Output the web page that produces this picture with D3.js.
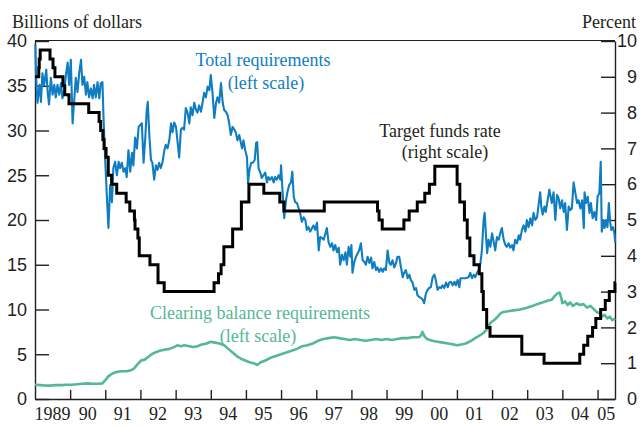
<!DOCTYPE html>
<html>
<head>
<meta charset="utf-8">
<script src="https://cdn.jsdelivr.net/npm/d3@7"></script>
<style>
  body { margin: 0; background: #fff; }
  svg { display: block; font-family: "Liberation Serif", "DejaVu Serif", serif; }
</style>
</head>
<body>
<script>
// target funds rate (percent), change dates
var rateDates = ["1989-01-01","1989-02-09","1989-02-14","1989-02-24","1989-06-06","1989-07-07","1989-07-27","1989-10-18","1989-11-06","1989-12-20",
  "1990-07-13","1990-10-29","1990-11-14","1990-12-07","1990-12-19","1991-01-09","1991-02-01","1991-03-08","1991-04-30","1991-08-06",
  "1991-09-13","1991-10-31","1991-11-06","1991-12-06","1991-12-20","1992-04-09","1992-07-02","1992-09-04","1994-02-04","1994-03-22",
  "1994-04-18","1994-05-17","1994-08-16","1994-11-15","1995-02-01","1995-07-06","1995-12-19","1996-01-31","1997-03-25","1998-09-29",
  "1998-10-15","1998-11-17","1999-06-30","1999-08-24","1999-11-16","2000-02-02","2000-03-21","2000-05-16","2001-01-03","2001-01-31",
  "2001-03-20","2001-04-18","2001-05-15","2001-06-27","2001-08-21","2001-09-17","2001-10-02","2001-11-06","2001-12-11","2002-11-06",
  "2003-06-25","2004-06-30","2004-08-10","2004-09-21","2004-11-10","2004-12-14","2005-02-02","2005-03-22","2005-05-03","2005-06-30","2005-07-01"];
var rateValues = [9.0,9.25,9.5,9.75,9.5,9.25,9.0,8.75,8.5,8.25,
  8.0,7.75,7.5,7.25,7.0,6.75,6.25,6.0,5.75,5.5,
  5.25,5.0,4.75,4.5,4.0,3.75,3.25,3.0,3.25,3.5,
  3.75,4.25,4.75,5.5,6.0,5.75,5.5,5.25,5.5,5.25,
  5.0,4.75,5.0,5.25,5.5,5.75,6.0,6.5,6.0,5.5,
  5.0,4.5,4.0,3.75,3.5,3.0,2.5,2.0,1.75,1.25,
  1.0,1.25,1.5,1.75,2.0,2.25,2.5,2.75,3.0,3.25,3.25];

// total requirements (billions of dollars)
var totalYears = [1989.01,1989.03,1989.07,1989.13,1989.17,1989.21,1989.26,1989.32,1989.36,1989.40,1989.45,1989.50,1989.55,1989.59,1989.64,1989.69,1989.74,1989.78,1989.83,1989.88,1989.93,1989.97,
  1990.02,1990.07,1990.12,1990.16,1990.21,1990.26,1990.31,1990.35,1990.40,1990.45,1990.49,1990.54,1990.59,1990.64,1990.68,1990.73,1990.78,1990.83,1990.87,1990.92,1990.95,
  1991.00,1991.04,1991.09,1991.14,1991.19,1991.23,1991.28,1991.33,1991.38,1991.42,1991.47,1991.52,1991.57,1991.61,1991.66,1991.71,1991.76,1991.80,1991.85,1991.90,1991.95,1991.99,
  1992.04,1992.09,1992.14,1992.18,1992.21,1992.25,1992.30,1992.34,1992.39,1992.44,1992.49,1992.53,1992.58,1992.63,1992.68,1992.72,1992.77,1992.82,1992.87,1992.91,1992.96,
  1993.01,1993.05,1993.10,1993.15,1993.20,1993.24,1993.29,1993.34,1993.39,1993.43,1993.48,1993.53,1993.58,1993.62,1993.67,1993.72,1993.77,1993.81,1993.86,1993.91,1993.96,
  1994.00,1994.05,1994.10,1994.15,1994.19,1994.24,1994.29,1994.34,1994.38,1994.43,1994.48,1994.52,1994.57,1994.62,1994.67,1994.71,1994.76,1994.81,1994.89,1994.93,1994.98,
  1995.03,1995.06,1995.10,1995.15,1995.20,1995.25,1995.29,1995.32,1995.36,1995.41,1995.45,1995.50,1995.55,1995.60,1995.64,1995.69,1995.74,1995.79,1995.83,1995.88,1995.93,1995.98,
  1996.00,1996.04,1996.09,1996.14,1996.18,1996.23,1996.28,1996.32,1996.36,1996.40,1996.45,1996.50,1996.54,1996.59,1996.64,1996.69,1996.73,1996.78,1996.83,1996.88,1996.92,1996.97,
  1997.02,1997.07,1997.11,1997.16,1997.21,1997.26,1997.30,1997.35,1997.40,1997.45,1997.49,1997.54,1997.59,1997.64,1997.68,1997.73,1997.78,1997.83,1997.87,1997.92,1997.97,
  1998.00,1998.03,1998.08,1998.13,1998.18,1998.22,1998.27,1998.32,1998.37,1998.41,1998.46,1998.51,1998.56,1998.60,1998.65,1998.70,1998.74,1998.79,1998.84,1998.89,1998.93,1998.98,
  1999.03,1999.08,1999.12,1999.17,1999.22,1999.27,1999.31,1999.36,1999.41,1999.46,1999.50,1999.55,1999.60,1999.65,1999.69,1999.74,1999.79,1999.84,1999.88,1999.93,1999.98,
  2000.03,2000.07,2000.12,2000.17,2000.21,2000.26,2000.31,2000.36,2000.40,2000.45,2000.50,2000.55,2000.59,2000.64,2000.69,2000.74,2000.78,2000.83,2000.88,2000.93,2000.97,
  2001.02,2001.07,2001.10,2001.24,2001.33,2001.38,2001.43,2001.48,2001.52,2001.57,2001.62,2001.67,2001.71,2001.76,2001.79,2001.83,2001.86,2001.90,2001.95,
  2002.00,2002.05,2002.09,2002.14,2002.19,2002.23,2002.28,2002.33,2002.38,2002.42,2002.47,2002.52,2002.57,2002.61,2002.66,2002.71,2002.76,2002.80,2002.85,2002.90,2002.95,2002.99,
  2003.04,2003.09,2003.14,2003.18,2003.23,2003.28,2003.33,2003.37,2003.40,2003.44,2003.49,2003.53,2003.58,2003.63,2003.70,2003.75,2003.80,2003.85,2003.89,2003.94,2003.99,
  2004.04,2004.08,2004.13,2004.18,2004.23,2004.27,2004.32,2004.37,2004.42,2004.46,2004.51,2004.56,2004.61,2004.63,2004.67,2004.72,2004.77,2004.81,2004.86,2004.91,2004.96,
  2005.00,2005.05,2005.09,2005.12,2005.16,2005.20,2005.24,2005.28,2005.32,2005.36,2005.39,2005.44,2005.48,2005.50];
var totalValues = [39.6,36.2,33.1,35.1,33.2,36.4,35.1,36.8,34.3,32.9,35.9,34.0,35.1,33.7,35.1,34.0,35.3,33.6,34.3,36.2,37.6,35.1,
  37.9,30.8,33.6,35.9,34.3,36.5,37.9,35.1,36.0,34.0,35.4,33.7,34.7,33.6,35.1,33.7,35.4,33.6,35.3,35.4,31.4,
  26.5,23.1,19.1,23.9,22.0,25.8,26.5,25.0,26.5,25.8,26.4,25.4,25.8,24.8,27.8,25.4,27.5,26.1,29.2,28.0,30.4,30.6,
  30.8,26.4,29.3,32.3,33.2,29.7,26.7,26.4,24.5,26.1,25.6,26.4,25.8,26.5,27.8,28.4,28.0,28.9,30.8,29.8,30.9,
  30.4,28.9,27.0,30.1,30.3,30.1,32.5,32.0,30.8,32.6,31.7,33.1,32.3,32.0,32.8,32.1,33.2,34.2,33.7,34.9,34.5,
  36.2,34.2,31.4,33.1,33.7,33.1,35.3,33.1,32.3,32.1,31.7,30.9,29.5,30.4,30.1,29.8,28.9,29.5,28.0,28.9,27.8,
  27.0,24.1,25.6,26.4,26.4,26.7,28.6,28.7,25.8,25.3,24.7,25.0,25.3,24.2,24.8,24.5,24.8,24.2,24.8,24.5,25.0,24.5,
  26.1,23.4,20.2,22.2,23.1,23.9,24.2,25.4,22.6,22.0,21.9,21.3,20.8,19.8,20.3,20.0,18.9,19.2,18.7,19.1,19.4,18.9,
  19.7,16.6,18.1,18.0,17.8,18.5,19.1,17.5,17.0,17.4,16.6,17.2,16.4,16.9,15.0,16.1,15.5,16.4,15.0,17.0,15.9,
  17.2,14.1,15.3,15.9,16.3,16.6,17.4,15.5,15.3,15.0,15.9,15.2,15.8,14.6,15.3,14.4,14.7,14.2,14.6,14.2,14.6,14.4,
  16.6,15.2,15.0,15.5,14.7,15.2,15.9,15.9,14.7,13.6,14.1,14.4,13.5,13.9,13.3,13.0,12.2,12.4,11.6,11.4,11.3,
  11.1,10.7,11.8,12.2,12.4,12.5,13.6,13.9,13.3,12.2,12.5,12.4,12.7,12.4,13.0,12.5,13.0,13.1,12.7,13.1,12.7,
  13.3,12.5,13.5,13.5,13.6,14.1,13.5,13.9,13.6,14.1,14.4,15.2,16.6,20.0,20.8,18.1,16.3,17.8,17.0,
  18.5,17.5,16.6,18.1,17.8,18.5,19.1,17.8,17.2,17.0,17.4,16.9,17.2,16.6,17.8,17.4,18.3,17.8,18.9,19.4,18.7,20.0,
  19.2,20.2,19.4,20.8,20.0,20.3,21.9,23.1,21.5,20.6,21.5,20.9,22.2,23.4,21.9,23.1,20.0,22.8,22.5,21.3,22.2,
  20.9,21.9,18.9,21.5,21.1,21.3,24.2,23.0,21.9,22.2,21.3,22.2,19.1,23.1,21.9,22.6,20.8,21.9,20.2,20.9,20.0,
  22.6,23.0,26.5,18.7,20.0,19.1,20.0,19.2,21.9,19.7,18.9,19.2,18.5,17.5];

// clearing balance requirements (billions of dollars)
var clearYears = [1989.00,1989.15,1989.30,1989.45,1989.60,1989.75,1989.90,1990.05,1990.20,1990.35,1990.50,1990.65,1990.80,1990.92,
  1991.00,1991.08,1991.18,1991.30,1991.45,1991.60,1991.72,1991.82,1991.92,1992.02,1992.12,1992.22,1992.32,1992.42,1992.55,1992.68,1992.82,1992.95,
  1993.05,1993.15,1993.25,1993.38,1993.50,1993.62,1993.75,1993.88,1994.00,1994.12,1994.25,1994.38,1994.50,1994.62,1994.74,1994.86,1994.98,
  1995.10,1995.22,1995.32,1995.42,1995.55,1995.70,1995.85,1996.00,1996.15,1996.30,1996.45,1996.60,1996.75,1996.90,
  1997.05,1997.20,1997.35,1997.50,1997.65,1997.80,1997.95,1998.10,1998.25,1998.40,1998.55,1998.70,1998.85,
  1999.00,1999.15,1999.30,1999.45,1999.60,1999.75,1999.92,1999.98,2000.02,2000.08,2000.15,2000.30,2000.45,2000.60,2000.75,2000.90,
  2001.00,2001.12,2001.25,2001.40,2001.52,2001.65,2001.76,2001.86,2001.95,2002.05,2002.14,2002.22,2002.30,2002.45,2002.61,2002.80,2002.99,
  2003.15,2003.28,2003.45,2003.60,2003.70,2003.78,2003.86,2003.92,2003.97,2004.00,2004.08,2004.15,2004.22,2004.30,2004.40,2004.50,2004.60,
  2004.70,2004.80,2004.88,2004.98,2005.06,2005.12,2005.20,2005.28,2005.35,2005.42,2005.50];
var clearValues = [1.6,1.55,1.5,1.5,1.55,1.55,1.6,1.6,1.65,1.7,1.75,1.7,1.7,1.75,
  2.1,2.5,2.8,3.0,3.1,3.1,3.2,3.4,3.9,4.3,4.4,4.7,5.0,5.2,5.4,5.5,5.6,5.8,
  6.0,5.9,6.0,5.9,5.8,5.9,6.1,6.2,6.4,6.3,6.2,6.0,5.6,5.2,4.8,4.5,4.3,
  4.1,4.0,3.8,4.1,4.3,4.6,4.8,5.0,5.2,5.4,5.6,5.9,6.0,6.2,
  6.5,6.7,6.8,6.9,6.8,6.7,6.6,6.7,6.6,6.5,6.6,6.7,6.6,
  6.7,6.6,6.7,6.8,6.8,6.9,6.9,7.1,7.5,7.0,6.7,6.5,6.4,6.3,6.2,6.1,
  6.0,6.1,6.2,6.5,6.8,7.1,7.4,7.8,8.5,8.8,9.1,9.5,9.7,9.8,9.9,10.0,10.2,
  10.4,10.6,10.8,11.0,11.1,11.5,11.8,11.9,11.3,10.7,10.9,10.5,10.8,10.4,10.7,10.5,10.6,
  10.2,10.4,10.1,9.7,9.6,9.2,9.4,9.0,9.2,8.8,9.0];

// tick labels
var yearLabels = ["1989","90","91","92","93","94","95","96","97","98","99","00","01","02","03","04","05"];
var leftTicks = [0,5,10,15,20,25,30,35,40];
var rightTicks = [0,1,2,3,4,5,6,7,8,9,10];

//setting up margin
var W = 641, H = 426,
    margin = {top:41, right:26, bottom:27, left:35},
    width = W - margin.left - margin.right,
    height = H - margin.top - margin.bottom;

var blue = "#0f7dc2", teal = "#55b895", ink = "#231f20";

// decimal year -> Date
function yearToDate(y) {
  var y0 = Math.floor(y), a = new Date(y0, 0, 1), b = new Date(y0 + 1, 0, 1);
  return new Date(+a + (y - y0) * (b - a));
}
var parse = d3.timeParse("%Y-%m-%d");

// scales
var x = d3.scaleTime()
    .domain([new Date(1989, 0, 1), new Date(2005, 6, 1)])
    .range([0, width]);
var yL = d3.scaleLinear().domain([0, 40]).range([height, 0]);
var yR = d3.scaleLinear().domain([0, 10]).range([height, 0]);

var svg = d3.select("body").append("svg")
    .attr("width", W)
    .attr("height", H);

var g = svg.append("g")
    .attr("transform", "translate(" + margin.left + "," + margin.top + ")");

// frame top line
g.append("line")
    .attr("x1", 0).attr("x2", width)
    .attr("y1", -0.5).attr("y2", -0.5)
    .attr("stroke", ink).attr("stroke-width", 1);

// bottom axis: ticks at year starts, labels mid-year
var yearStarts = d3.range(1990, 2006).map(function(y) { return new Date(y, 0, 1); });
var xAxis = g.append("g")
    .attr("transform", "translate(0," + height + ")")
    .call(d3.axisBottom(x).tickValues(yearStarts).tickSize(-9).tickSizeOuter(0).tickFormat(""));

var end = x.domain()[1];
g.append("g").selectAll("text")
    .data(yearLabels)
  .enter().append("text")
    .attr("x", function(d, i) {
      var a = new Date(1989 + i, 0, 1), b = new Date(1990 + i, 0, 1);
      if (b > end) b = end;
      return (x(a) + x(b)) / 2;
    })
    .attr("y", height + 21)
    .attr("text-anchor", "middle")
    .attr("font-size", 18)
    .attr("fill", ink)
    .text(function(d) { return d; });

// left axis
var leftAxis = g.append("g")
    .call(d3.axisLeft(yL).tickValues(leftTicks).tickSize(-14).tickSizeOuter(0).tickPadding(8));

// right axis
var rightAxis = g.append("g")
    .attr("transform", "translate(" + width + ",0)")
    .call(d3.axisRight(yR).tickValues(rightTicks).tickSize(-14).tickSizeOuter(0));
rightAxis.selectAll("text")
    .attr("x", 22)
    .attr("text-anchor", "end");

[xAxis, leftAxis, rightAxis].forEach(function(a) {
  a.selectAll("path, line").attr("stroke", ink).attr("stroke-width", 1.4);
  a.selectAll("text").attr("font-size", 18).attr("fill", ink).attr("font-family", null);
});

// line generators
var lineL = d3.line()
    .x(function(d) { return x(d[0]); })
    .y(function(d) { return yL(d[1]); });
var lineR = d3.line()
    .curve(d3.curveStepAfter)
    .x(function(d) { return x(d[0]); })
    .y(function(d) { return yR(d[1]); });

var clearData = clearYears.map(function(y, i) { return [yearToDate(y), clearValues[i]]; });
var totalData = totalYears.map(function(y, i) { return [yearToDate(y), totalValues[i]]; });
var rateData = rateDates.map(function(s, i) { return [parse(s), rateValues[i]]; });

g.append("path").datum(clearData)
    .attr("d", lineL).attr("fill", "none")
    .attr("stroke", teal).attr("stroke-width", 2.6).attr("stroke-linejoin", "round");

g.append("path").datum(totalData)
    .attr("d", lineL).attr("fill", "none")
    .attr("stroke", blue).attr("stroke-width", 2.1).attr("stroke-linejoin", "round");

g.append("path").datum(rateData)
    .attr("d", lineR).attr("fill", "none")
    .attr("stroke", "#000").attr("stroke-width", 3);

// titles and series labels
function label(txt, px, py, anchor, color) {
  svg.append("text")
      .attr("x", px).attr("y", py)
      .attr("text-anchor", anchor)
      .attr("font-size", 18)
      .attr("fill", color)
      .text(txt);
}
label("Billions of dollars", 12, 28, "start", ink);
label("Percent", 636, 28, "end", ink);
label("Total requirements", 263, 66, "middle", blue);
label("(left scale)", 266, 89, "middle", blue);
label("Target funds rate", 440, 137, "middle", ink);
label("(right scale)", 445, 158, "middle", ink);
label("Clearing balance requirements", 260, 319, "middle", teal);
label("(left scale)", 258, 342, "middle", teal);
</script>
</body>
</html>
